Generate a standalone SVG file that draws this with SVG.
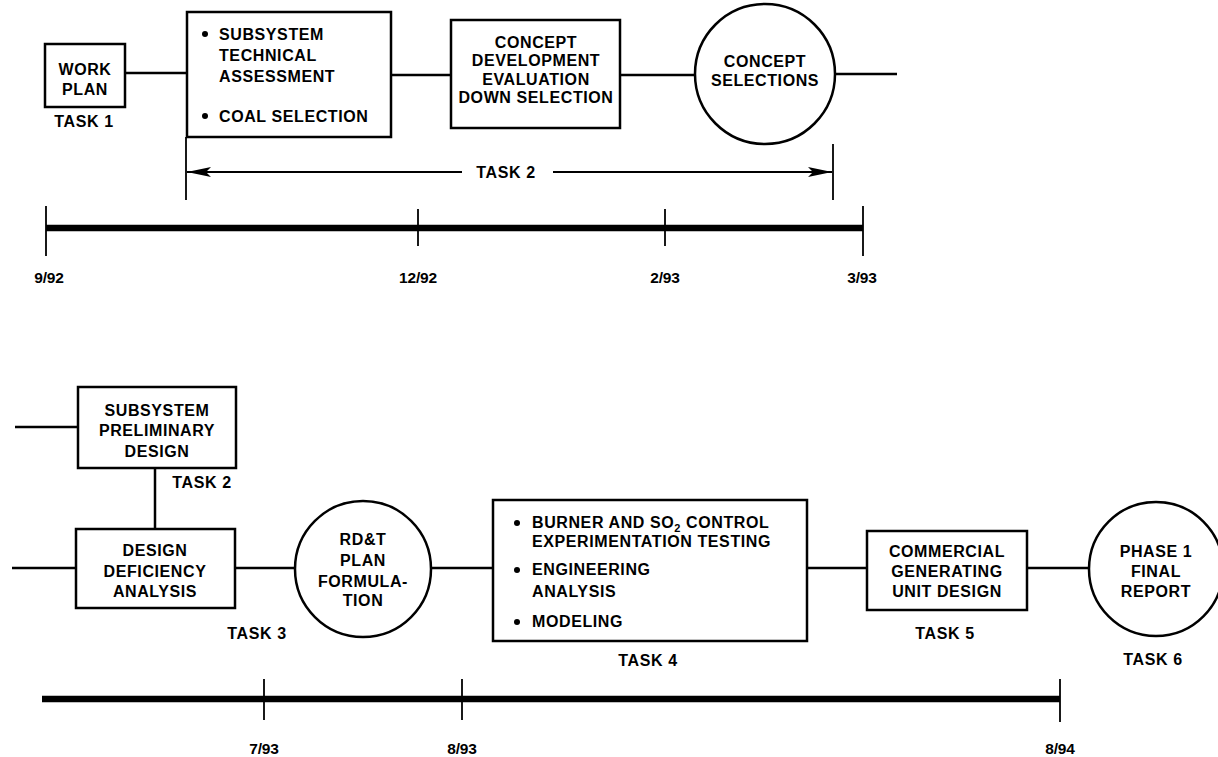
<svg xmlns="http://www.w3.org/2000/svg" width="1218" height="757" viewBox="0 0 1218 757">
<style>
  text { font-family: "Liberation Sans", Arial, sans-serif; font-weight: bold; fill: #000; }
  .t { font-size: 16px; letter-spacing: 0.6px; }
  .c { text-anchor: middle; }
  .d { font-size: 15.5px; text-anchor: middle; letter-spacing: -0.2px; }
  .box { fill: #fff; stroke: #000; stroke-width: 2.5; }
  .ln { fill: none; stroke: #000; stroke-width: 2.5; }
  .thin { fill: none; stroke: #000; stroke-width: 1.8; }
  .tl { fill: none; stroke: #000; stroke-width: 6.5; }
</style>
<defs>
  <marker id="ah" viewBox="0 0 24 10" refX="24" refY="5" markerWidth="24" markerHeight="10" markerUnits="userSpaceOnUse" orient="auto">
    <path d="M0,0 L24,5 L0,10 L5,5 Z" fill="#000"/>
  </marker>
</defs>
<rect width="1218" height="757" fill="#fff"/>

<g id="connectors">
  <line class="ln" x1="125" y1="73" x2="187" y2="73"/>
  <line class="ln" x1="391" y1="75" x2="451" y2="75"/>
  <line class="ln" x1="620" y1="75" x2="695" y2="75"/>
  <line class="ln" x1="835" y1="74" x2="897" y2="74"/>
  <line class="ln" x1="15" y1="427" x2="78" y2="427"/>
  <line class="ln" x1="155" y1="468" x2="155" y2="529"/>
  <line class="ln" x1="12" y1="568" x2="76" y2="568"/>
  <line class="ln" x1="235" y1="568" x2="295" y2="568"/>
  <line class="ln" x1="431" y1="568" x2="493" y2="568"/>
  <line class="ln" x1="807" y1="568" x2="867" y2="568"/>
  <line class="ln" x1="1027" y1="568" x2="1089" y2="568"/>
</g>

<g id="task2-span">
  <line class="thin" x1="186" y1="137" x2="186" y2="200"/>
  <line class="thin" x1="833" y1="144" x2="833" y2="200"/>
  <line class="thin" x1="462" y1="172" x2="187" y2="172" marker-end="url(#ah)"/>
  <line class="thin" x1="553" y1="172" x2="832" y2="172" marker-end="url(#ah)"/>
  <text class="t c" x="506" y="178">TASK 2</text>
</g>

<g id="timeline-1">
  <line class="tl" x1="46" y1="228" x2="863" y2="228"/>
  <line class="thin" x1="46" y1="206" x2="46" y2="256"/>
  <line class="thin" x1="418" y1="209" x2="418" y2="246"/>
  <line class="thin" x1="665" y1="209" x2="665" y2="246"/>
  <line class="thin" x1="863" y1="206" x2="863" y2="256"/>
  <text class="d" x="49" y="283">9/92</text>
  <text class="d" x="418" y="283">12/92</text>
  <text class="d" x="665" y="283">2/93</text>
  <text class="d" x="862" y="283">3/93</text>
</g>

<g id="timeline-2">
  <line class="tl" x1="42" y1="699" x2="1060" y2="699"/>
  <line class="thin" x1="264" y1="679" x2="264" y2="720"/>
  <line class="thin" x1="462" y1="679" x2="462" y2="720"/>
  <line class="thin" x1="1060" y1="679" x2="1060" y2="722"/>
  <text class="d" x="264" y="754">7/93</text>
  <text class="d" x="462" y="754">8/93</text>
  <text class="d" x="1060" y="754">8/94</text>
</g>

<g id="work-plan">
  <rect class="box" x="45" y="44" width="80" height="63"/>
  <text class="t c" x="85" y="75">WORK</text>
  <text class="t c" x="85" y="95">PLAN</text>
  <text class="t c" x="84" y="127">TASK 1</text>
</g>

<g id="subsystem-assessment">
  <rect class="box" x="187" y="12" width="204" height="125"/>
  <circle cx="205" cy="34" r="3"/>
  <text class="t" x="219" y="40">SUBSYSTEM</text>
  <text class="t" x="219" y="61">TECHNICAL</text>
  <text class="t" x="219" y="82">ASSESSMENT</text>
  <circle cx="205" cy="116" r="3"/>
  <text class="t" x="219" y="122">COAL SELECTION</text>
</g>

<g id="concept-development">
  <rect class="box" x="451" y="20" width="169" height="108"/>
  <text class="t c" x="536" y="48">CONCEPT</text>
  <text class="t c" x="536" y="66">DEVELOPMENT</text>
  <text class="t c" x="536" y="85">EVALUATION</text>
  <text class="t c" x="536" y="103">DOWN SELECTION</text>
</g>

<g id="concept-selections">
  <circle class="box" cx="765" cy="74" r="70"/>
  <text class="t c" x="765" y="67">CONCEPT</text>
  <text class="t c" x="765" y="86">SELECTIONS</text>
</g>

<g id="subsystem-preliminary">
  <rect class="box" x="78" y="387" width="158" height="81"/>
  <text class="t c" x="157" y="416">SUBSYSTEM</text>
  <text class="t c" x="157" y="436">PRELIMINARY</text>
  <text class="t c" x="157" y="457">DESIGN</text>
  <text class="t c" x="202" y="488">TASK 2</text>
</g>

<g id="design-deficiency">
  <rect class="box" x="76" y="529" width="159" height="79"/>
  <text class="t c" x="155" y="556">DESIGN</text>
  <text class="t c" x="155" y="577">DEFICIENCY</text>
  <text class="t c" x="155" y="597">ANALYSIS</text>
  <text class="t c" x="257" y="639">TASK 3</text>
</g>

<g id="rdt-plan">
  <circle class="box" cx="363" cy="569" r="68"/>
  <text class="t c" x="363" y="545">RD&amp;T</text>
  <text class="t c" x="363" y="566">PLAN</text>
  <text class="t c" x="363" y="587">FORMULA-</text>
  <text class="t c" x="363" y="606">TION</text>
</g>

<g id="task4">
  <rect class="box" x="493" y="500" width="314" height="141"/>
  <circle cx="517" cy="523" r="3"/>
  <text class="t" x="532" y="528">BURNER AND SO<tspan font-size="11" dy="4">2</tspan><tspan dy="-4"> CONTROL</tspan></text>
  <text class="t" x="532" y="547">EXPERIMENTATION TESTING</text>
  <circle cx="517" cy="570" r="3"/>
  <text class="t" x="532" y="575">ENGINEERING</text>
  <text class="t" x="532" y="597">ANALYSIS</text>
  <circle cx="517" cy="622" r="3"/>
  <text class="t" x="532" y="627">MODELING</text>
  <text class="t c" x="648" y="666">TASK 4</text>
</g>

<g id="commercial-design">
  <rect class="box" x="867" y="531" width="160" height="79"/>
  <text class="t c" x="947" y="557">COMMERCIAL</text>
  <text class="t c" x="947" y="577">GENERATING</text>
  <text class="t c" x="947" y="597">UNIT DESIGN</text>
  <text class="t c" x="945" y="639">TASK 5</text>
</g>

<g id="final-report">
  <circle class="box" cx="1156" cy="569" r="67"/>
  <text class="t c" x="1156" y="557">PHASE 1</text>
  <text class="t c" x="1156" y="577">FINAL</text>
  <text class="t c" x="1156" y="597">REPORT</text>
  <text class="t c" x="1153" y="665">TASK 6</text>
</g>
</svg>
